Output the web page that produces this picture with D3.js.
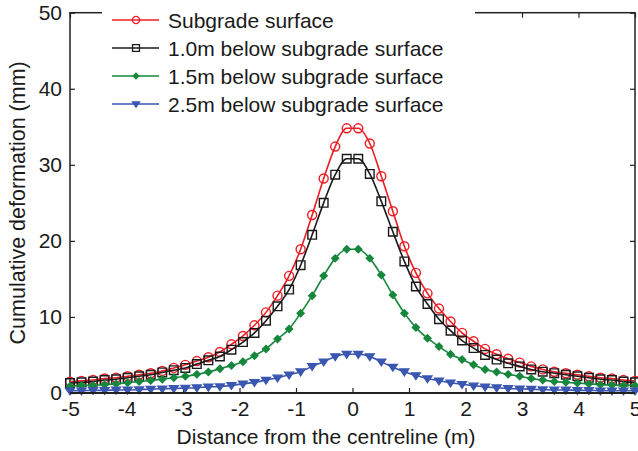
<!DOCTYPE html>
<html><head><meta charset="utf-8">
<script src="https://cdn.jsdelivr.net/npm/d3@7"></script>
<style>body{margin:0;background:#fff}svg{display:block}text{font-family:"Liberation Sans",Arial,Helvetica,sans-serif;fill:#1a1a1a}</style>
</head><body><svg id="c" width="638" height="451"></svg>
<script>
const xValues = [-5.000,-4.796,-4.592,-4.388,-4.184,-3.980,-3.776,-3.571,-3.367,-3.163,-2.959,-2.755,-2.551,-2.347,-2.143,-1.939,-1.735,-1.531,-1.327,-1.122,-0.918,-0.714,-0.510,-0.306,-0.102,0.102,0.306,0.510,0.714,0.918,1.122,1.327,1.531,1.735,1.939,2.143,2.347,2.551,2.755,2.959,3.163,3.367,3.571,3.776,3.980,4.184,4.388,4.592,4.796,5.000];
const seriesNames = ["Subgrade surface","1.0m below subgrade surface","1.5m below subgrade surface","2.5m below subgrade surface"];
const subgrade = [1.5,1.6,1.7,1.9,2.0,2.2,2.4,2.6,2.9,3.3,3.7,4.2,4.7,5.4,6.4,7.5,8.9,10.6,12.8,15.4,18.9,23.4,28.2,32.4,34.8,34.8,32.8,28.5,23.9,19.3,15.8,13.1,11.1,9.4,7.9,6.8,5.8,5.1,4.5,4.0,3.5,3.1,2.8,2.6,2.4,2.2,2.0,1.9,1.7,1.6];
const below10 = [1.3,1.4,1.5,1.7,1.8,2.0,2.2,2.4,2.7,3.0,3.3,3.8,4.3,4.8,5.7,6.7,7.9,9.5,11.4,13.6,16.8,20.8,25.0,28.7,30.8,30.8,28.8,25.2,21.2,17.3,14.0,11.7,9.7,8.2,6.9,5.9,5.0,4.4,3.9,3.5,3.1,2.8,2.6,2.4,2.2,2.0,1.8,1.7,1.5,1.4];
const below15 = [0.9,1.0,1.0,1.1,1.2,1.35,1.5,1.65,1.8,2.0,2.2,2.45,2.75,3.2,3.6,4.1,4.9,5.8,7.1,8.4,10.5,12.8,15.4,17.7,18.9,18.9,17.7,15.5,12.9,10.5,8.6,7.2,6.1,5.1,4.4,3.7,3.1,2.75,2.45,2.2,1.9,1.7,1.5,1.4,1.3,1.2,1.1,1.05,1.0,1.0];
const below25 = [0.3,0.3,0.35,0.35,0.4,0.4,0.45,0.5,0.55,0.6,0.65,0.7,0.8,0.85,1.0,1.2,1.4,1.7,2.0,2.4,2.8,3.5,4.1,4.8,5.1,5.1,4.8,4.1,3.4,2.8,2.3,1.9,1.6,1.35,1.15,0.95,0.8,0.7,0.6,0.55,0.5,0.45,0.4,0.4,0.35,0.35,0.3,0.3,0.3,0.3];
const xTicks = [-5,-4,-3,-2,-1,0,1,2,3,4,5];
const xTickLabels = ["-5","-4","-3","-2","-1","0","1","2","3","4","5"];
const yTicks = [0,10,20,30,40,50];
const colors = ["#ee1c24","#1a1a1a","#16873c","#3a56b0"];
const markers = ["circle","square","diamond","triangleDown"];

const allSeries = [subgrade, below10, below15, below25];
const svg = d3.select("#c");
const L = 70, R = 635, T = 12.7, B = 393;
const x = d3.scaleLinear().domain([-5,5]).range([L,R]);
const y = d3.scaleLinear().domain([0,50]).range([B,T]);
const axisColor = "#222";
const FS = 21;

const g = svg.append("g");
g.append("g").attr("transform",`translate(0,${B})`)
  .call(d3.axisBottom(x).tickValues(xTicks).tickSize(-5).tickPadding(8).tickFormat((d,i)=>xTickLabels[i]))
  .call(a=>{a.select(".domain").remove();a.selectAll("line").attr("stroke",axisColor).attr("stroke-width",1.2);a.selectAll("text").attr("font-size",FS).attr("font-family","Liberation Sans, Arial, sans-serif").style("fill","#1a1a1a");});
g.append("g").attr("transform",`translate(${L},0)`)
  .call(d3.axisLeft(y).tickValues(yTicks).tickSize(-5).tickPadding(8))
  .call(a=>{a.select(".domain").remove();a.selectAll("line").attr("stroke",axisColor).attr("stroke-width",1.2);a.selectAll("text").attr("font-size",FS).attr("font-family","Liberation Sans, Arial, sans-serif").style("fill","#1a1a1a");});
g.append("g").attr("transform",`translate(0,${T})`)
  .call(d3.axisTop(x).tickValues(xTicks).tickSize(-5).tickFormat(""))
  .call(a=>{a.select(".domain").remove();a.selectAll("line").attr("stroke",axisColor).attr("stroke-width",1.2);});
g.append("g").attr("transform",`translate(${R},0)`)
  .call(d3.axisRight(y).tickValues(yTicks).tickSize(-5).tickFormat(""))
  .call(a=>{a.select(".domain").remove();a.selectAll("line").attr("stroke",axisColor).attr("stroke-width",1.2);});
g.append("rect").attr("x",L).attr("y",T).attr("width",R-L).attr("height",B-T)
  .attr("fill","none").attr("stroke",axisColor).attr("stroke-width",1.5);

function markerPath(type, s){
  if(type==="circle") return d3.symbol(d3.symbolCircle, Math.PI*s*s)();
  if(type==="square") return `M${-s},${-s}H${s}V${s}H${-s}Z`;
  if(type==="diamond") return `M0,${-s}L${s},0L0,${s}L${-s},0Z`;
  return `M${-s},${-s*0.6}L${s},${-s*0.6}L0,${s*0.9}Z`;
}
const mSize = [4.5,4.3,3.5,4.4];
const filled = [false,false,true,true];

const line = d3.line().x(d=>x(d[0])).y(d=>y(d[1])).curve(d3.curveMonotoneX);
const plot = svg.append("g");
allSeries.forEach((vals,i)=>{
  const pts = xValues.map((xv,k)=>[xv, vals[k]]);
  plot.append("path").datum(pts).attr("d",line).attr("fill","none").attr("stroke",colors[i]).attr("stroke-width",1.6);
  plot.selectAll(null).data(pts).enter().append("path")
    .attr("transform",d=>`translate(${x(d[0])},${y(d[1])})`)
    .attr("d",markerPath(markers[i],mSize[i]))
    .attr("fill",filled[i]?colors[i]:"none")
    .attr("stroke",colors[i]).attr("stroke-width",1.4);
});
svg.append("line").attr("x1",L).attr("x2",R).attr("y1",B).attr("y2",B).attr("stroke",axisColor).attr("stroke-width",2);

const lg = svg.append("g");
lg.append("rect").attr("x",102).attr("y",0).attr("width",373).attr("height",118).attr("fill","#fff");
const rowY = [20,48,76,104];
seriesNames.forEach((name,i)=>{
  lg.append("line").attr("x1",112).attr("x2",159).attr("y1",rowY[i]).attr("y2",rowY[i]).attr("stroke",colors[i]).attr("stroke-width",1.5);
  lg.append("path").attr("transform",`translate(136,${rowY[i]})`).attr("d",markerPath(markers[i],mSize[i]*0.8))
    .attr("fill",filled[i]?colors[i]:"none").attr("stroke",colors[i]).attr("stroke-width",1.3);
  lg.append("text").attr("x",168).attr("y",rowY[i]).attr("dy","0.36em").attr("font-size",FS).text(name);
});

svg.append("text").attr("x",326).attr("y",444).attr("text-anchor","middle").attr("font-size",FS).text("Distance from the centreline (m)");
svg.append("text").attr("transform",`translate(25,${(T+B)/2}) rotate(-90)`).attr("text-anchor","middle").attr("font-size",21.5).text("Cumulative deformation (mm)");
</script></body></html>
